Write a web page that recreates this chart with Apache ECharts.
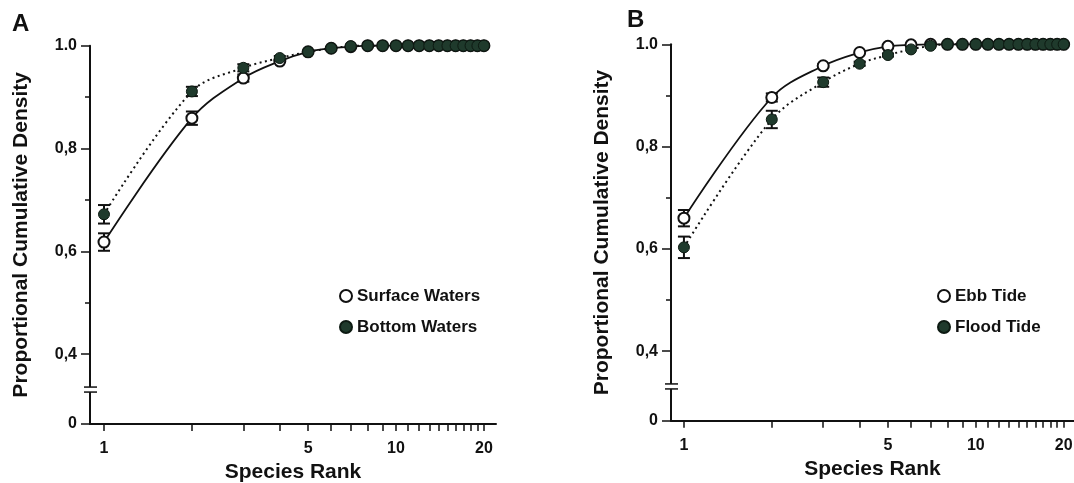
<!DOCTYPE html>
<html>
<head>
<meta charset="utf-8">
<script src="https://cdn.jsdelivr.net/npm/echarts@6/dist/echarts.min.js"></script>
<style>
  html, body { margin: 0; padding: 0; background: #ffffff; }
  #chart { width: 1074px; height: 483px; }
</style>
</head>
<body>
<div id="chart"></div>
<script>
// Species rank shared by every series
const ranks = [1, 2, 3, 4, 5, 6, 7, 8, 9, 10, 11, 12, 13, 14, 15, 16, 17, 18, 19, 20];

// Panel A: proportional cumulative density, mean and error
const surfaceWaters    = [0.618, 0.859, 0.937, 0.970, 0.988, 0.995, 0.998, 1.0, 1.0, 1.0, 1.0, 1.0, 1.0, 1.0, 1.0, 1.0, 1.0, 1.0, 1.0, 1.0];
const surfaceWatersErr = [0.017, 0.013, 0.007, 0, 0, 0, 0, 0, 0, 0, 0, 0, 0, 0, 0, 0, 0, 0, 0, 0];
const bottomWaters     = [0.672, 0.911, 0.957, 0.976, 0.988, 0.995, 0.999, 1.0, 1.0, 1.0, 1.0, 1.0, 1.0, 1.0, 1.0, 1.0, 1.0, 1.0, 1.0, 1.0];
const bottomWatersErr  = [0.018, 0.009, 0.007, 0.004, 0, 0, 0, 0, 0, 0, 0, 0, 0, 0, 0, 0, 0, 0, 0, 0];

// Panel B: proportional cumulative density, mean and error
const ebbTide      = [0.660, 0.896, 0.958, 0.984, 0.996, 0.999, 1.0, 1.0, 1.0, 1.0, 1.0, 1.0, 1.0, 1.0, 1.0, 1.0, 1.0, 1.0, 1.0, 1.0];
const ebbTideErr   = [0.016, 0.008, 0.003, 0, 0, 0, 0, 0, 0, 0, 0, 0, 0, 0, 0, 0, 0, 0, 0, 0];
const floodTide    = [0.603, 0.853, 0.926, 0.962, 0.979, 0.990, 0.997, 1.0, 1.0, 1.0, 1.0, 1.0, 1.0, 1.0, 1.0, 1.0, 1.0, 1.0, 1.0, 1.0];
const floodTideErr = [0.021, 0.017, 0.009, 0.004, 0.003, 0, 0, 0, 0, 0, 0, 0, 0, 0, 0, 0, 0, 0, 0, 0];

// Tick values
const yMajorTicks = [0.4, 0.6, 0.8, 1.0];
const yMinorTicks = [0.5, 0.7, 0.9];
const xTickValues = ranks;
const xLabelValues = [1, 5, 10, 20];

// The y axis is broken below 0.4: its bottom end stands for zero
const Y_BASE = 0.264;
const Y_BREAK = 0.331;

const FONT = '"Liberation Sans", Arial, Helvetica, sans-serif';
const INK = '#111111';
const FILL_DARK = '#1f3a2c';

const panels = [
  {
    letter: 'A', letterPos: { left: 12, top: 12 },
    grid: { left: 90, top: 45.7, width: 406, height: 378.3 },
    xMin: 0.8955, xMax: 22.0,
    open:   { name: 'Surface Waters', values: surfaceWaters, err: surfaceWatersErr },
    filled: { name: 'Bottom Waters',  values: bottomWaters,  err: bottomWatersErr },
    legend: { left: 339, top: 287 }
  },
  {
    letter: 'B', letterPos: { left: 627, top: 8 },
    grid: { left: 671, top: 44.3, width: 403, height: 376.4 },
    xMin: 0.903, xMax: 21.7,
    open:   { name: 'Ebb Tide',   values: ebbTide,   err: ebbTideErr },
    filled: { name: 'Flood Tide', values: floodTide, err: floodTideErr },
    legend: { left: 937, top: 287 }
  }
];

function yLabel(v) {
  if (Math.abs(v - Y_BASE) < 1e-6) return '0';
  if (Math.abs(v - 1) < 1e-6) return '1.0';
  return v.toFixed(1).replace('.', ',');
}

function errorBarItem(params, api) {
  const x = api.value(0), m = api.value(1), e = api.value(2);
  if (!e) return null;
  const hi = api.coord([x, m + e]);
  const lo = api.coord([x, m - e]);
  const hw = 6;
  const st = { stroke: INK, lineWidth: 2 };
  return {
    type: 'group',
    children: [
      { type: 'line', shape: { x1: hi[0], y1: hi[1], x2: lo[0], y2: lo[1] }, style: st },
      { type: 'line', shape: { x1: hi[0] - hw, y1: hi[1], x2: hi[0] + hw, y2: hi[1] }, style: st },
      { type: 'line', shape: { x1: lo[0] - hw, y1: lo[1], x2: lo[0] + hw, y2: lo[1] }, style: st }
    ]
  };
}

const grids = [], xAxes = [], yAxes = [], series = [], legends = [], titles = [];

panels.forEach((p, gi) => {
  grids.push(Object.assign({ outerBoundsMode: 'none', containLabel: false }, p.grid));

  xAxes.push({
    type: 'log', logBase: 10, gridIndex: gi,
    min: p.xMin, max: p.xMax,
    name: 'Species Rank', nameLocation: 'middle', nameGap: 32,
    nameTextStyle: { fontFamily: FONT, fontWeight: 'bold', fontSize: 21, color: INK },
    axisLine: { show: true, lineStyle: { color: INK, width: 2 } },
    axisTick: { show: true, length: 7, inside: false, customValues: xTickValues, lineStyle: { color: INK, width: 1.5 } },
    axisLabel: { show: true, customValues: xLabelValues, margin: 17, fontFamily: FONT, fontWeight: 'bold', fontSize: 16, color: INK },
    splitLine: { show: false }, minorTick: { show: false }
  });

  // major ticks, labels and the axis line
  yAxes.push({
    type: 'value', gridIndex: gi, position: 'left', offset: 0,
    min: Y_BASE, max: 1.0,
    name: 'Proportional Cumulative Density', nameLocation: 'middle', nameGap: 58, nameRotate: 90,
    nameTextStyle: { fontFamily: FONT, fontWeight: 'bold', fontSize: 21, color: INK },
    axisLine: { show: true, lineStyle: { color: INK, width: 2 } },
    axisTick: { show: true, length: 9, customValues: [Y_BASE].concat(yMajorTicks), lineStyle: { color: INK, width: 1.5 } },
    axisLabel: { show: true, customValues: [Y_BASE].concat(yMajorTicks), formatter: yLabel, margin: 13,
                 fontFamily: FONT, fontWeight: 'bold', fontSize: 16, color: INK },
    splitLine: { show: false }
  });
  // minor ticks at the odd tenths
  yAxes.push({
    type: 'value', gridIndex: gi, position: 'left', offset: 0,
    min: Y_BASE, max: 1.0,
    axisLine: { show: false },
    axisTick: { show: true, length: 5, customValues: yMinorTicks, lineStyle: { color: INK, width: 1.5 } },
    axisLabel: { show: false },
    splitLine: { show: false }
  });

  const yIdx = gi * 2;
  const pairs = (vals) => ranks.map((r, i) => [r, vals[i]]);
  const triples = (vals, errs) => ranks.map((r, i) => [r, vals[i], errs[i]]);

  series.push({
    type: 'custom', xAxisIndex: gi, yAxisIndex: yIdx, renderItem: errorBarItem,
    data: triples(p.open.values, p.open.err), z: 2, silent: true, clip: false
  });
  series.push({
    type: 'custom', xAxisIndex: gi, yAxisIndex: yIdx, renderItem: errorBarItem,
    data: triples(p.filled.values, p.filled.err), z: 2, silent: true, clip: false
  });
  series.push({
    name: p.open.name, type: 'line', xAxisIndex: gi, yAxisIndex: yIdx,
    data: pairs(p.open.values), smooth: 0.35, clip: false,
    symbol: 'circle', symbolSize: 11, showAllSymbol: true,
    lineStyle: { color: INK, width: 1.8, type: 'solid' },
    itemStyle: { color: '#ffffff', borderColor: INK, borderWidth: 2 },
    emphasis: { disabled: true }, z: 3
  });
  series.push({
    name: p.filled.name, type: 'line', xAxisIndex: gi, yAxisIndex: yIdx,
    data: pairs(p.filled.values), smooth: 0.35, clip: false,
    symbol: 'circle', symbolSize: 11, showAllSymbol: true,
    lineStyle: { color: INK, width: 2, type: [2, 3.5] },
    itemStyle: { color: FILL_DARK, borderColor: '#0d1a12', borderWidth: 1 },
    emphasis: { disabled: true }, z: 4
  });

  legends.push({
    data: [p.open.name, p.filled.name],
    orient: 'vertical', left: p.legend.left, top: p.legend.top, padding: 0,
    itemWidth: 12, itemHeight: 12, itemGap: 13, icon: 'circle',
    selectedMode: false,
    textStyle: { fontFamily: FONT, fontWeight: 'bold', fontSize: 17, color: INK, lineHeight: 18 }
  });

  titles.push({
    text: p.letter, left: p.letterPos.left, top: p.letterPos.top, padding: 0,
    textStyle: { fontFamily: FONT, fontWeight: 'bold', fontSize: 24, color: INK }
  });
});

const chart = echarts.init(document.getElementById('chart'), null, { renderer: 'canvas' });
chart.setOption({
  animation: false,
  backgroundColor: '#ffffff',
  title: titles,
  grid: grids,
  xAxis: xAxes,
  yAxis: yAxes,
  legend: legends,
  tooltip: { show: false },
  series: series
});

// axis break marks: a small gap in the y axis line with two parallel strokes
const breakGraphics = [];
panels.forEach((p, gi) => {
  const pt = chart.convertToPixel({ xAxisIndex: gi, yAxisIndex: gi * 2 }, [p.xMin, Y_BREAK]);
  const x = pt[0], y = pt[1];
  breakGraphics.push({
    type: 'rect', shape: { x: x - 4, y: y - 2.5, width: 8, height: 5 },
    style: { fill: '#ffffff' }, z: 100, silent: true
  });
  [-2.5, 2.5].forEach((d) => {
    breakGraphics.push({
      type: 'line', shape: { x1: x - 6, y1: y + d, x2: x + 7, y2: y + d },
      style: { stroke: INK, lineWidth: 1.5 }, z: 101, silent: true
    });
  });
});
chart.setOption({ graphic: breakGraphics });
</script>
</body>
</html>
